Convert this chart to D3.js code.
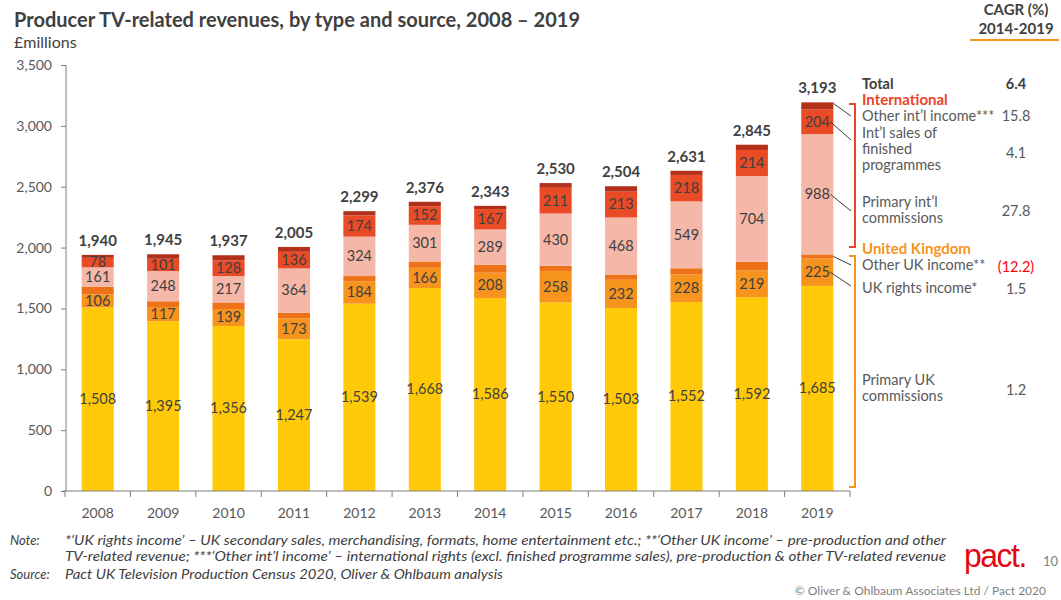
<!DOCTYPE html>
<html>
<head>
<meta charset="utf-8">
<script src="https://cdn.jsdelivr.net/npm/d3@7.9.0/dist/d3.min.js"></script>
<style>
  body { margin: 0; background: #fff; }
  svg { display: block; font-family: Lato, "Open Sans", sans-serif; }
  .axis text { fill: #595959; font-size: 14px; font-family: Lato, sans-serif; }
  .axis path, .axis line { stroke: #7f7f7f; }
</style>
</head>
<body>
<svg id="chart" width="1061" height="600"></svg>
<script>
const years = [2008, 2009, 2010, 2011, 2012, 2013, 2014, 2015, 2016, 2017, 2018, 2019];
const primaryUK = [1508, 1395, 1356, 1247, 1539, 1668, 1586, 1550, 1503, 1552, 1592, 1685];
const ukRights = [106, 117, 139, 173, 184, 166, 208, 258, 232, 228, 219, 225];
const otherUK = [63, 47, 54, 45, 43, 52, 66, 42, 44, 50, 73, 34];
const primaryIntl = [161, 248, 217, 364, 324, 301, 289, 430, 468, 549, 704, 988];
const intlSales = [78, 101, 128, 136, 174, 152, 167, 211, 213, 218, 214, 204];
const otherIntl = [24, 37, 43, 40, 35, 37, 27, 39, 44, 34, 43, 57];
const totals = [1940, 1945, 1937, 2005, 2299, 2376, 2343, 2530, 2504, 2631, 2845, 3193];
const yTicks = [0, 500, 1000, 1500, 2000, 2500, 3000, 3500];

// legend / CAGR column
const cagrLabels = ['Other int\u2019l income***', 'Int\u2019l sales of|finished|programmes', 'Primary int\u2019l|commissions',
  'Other UK income**', 'UK rights income*', 'Primary UK|commissions'];
const cagrValues = ['15.8', '4.1', '27.8', '(12.2)', '1.5', '1.2'];
const totalCagr = '6.4';

const keys = ['primaryUK', 'ukRights', 'otherUK', 'primaryIntl', 'intlSales', 'otherIntl'];
const colors = {
  primaryUK: '#FFC907', ukRights: '#F7941D', otherUK: '#EE7219',
  primaryIntl: '#F5B7A8', intlSales: '#E84B25', otherIntl: '#B3301B'
};
const labelled = ['primaryUK', 'ukRights', 'primaryIntl', 'intlSales'];

const rows = years.map((yr, i) => ({
  year: yr, primaryUK: primaryUK[i], ukRights: ukRights[i], otherUK: otherUK[i],
  primaryIntl: primaryIntl[i], intlSales: intlSales[i], otherIntl: otherIntl[i], total: totals[i]
}));

const svg = d3.select('#chart');
const fmt = d3.format(',');

const x = d3.scaleBand().domain(years).range([65, 850]).paddingInner(0.51).paddingOuter(0.255);
const y = d3.scaleLinear().domain([0, 3500]).range([491, 65]);

const series = d3.stack().keys(keys)(rows);

// bars
const layers = svg.append('g').selectAll('g')
  .data(series)
  .join('g')
  .attr('fill', (s) => colors[s.key]);

layers.selectAll('rect')
  .data((s) => s)
  .join('rect')
  .attr('x', (d) => x(d.data.year))
  .attr('width', x.bandwidth())
  .attr('y', (d) => y(d[1]))
  .attr('height', (d) => y(d[0]) - y(d[1]));

// segment labels
const segLabels = svg.append('g')
  .attr('font-size', 14.5)
  .attr('fill', '#404040')
  .attr('text-anchor', 'middle');

series.filter((s) => labelled.includes(s.key)).forEach((s) => {
  segLabels.selectAll(null)
    .data(s)
    .join('text')
    .attr('x', (d) => x(d.data.year) + x.bandwidth() / 2)
    .attr('y', (d) => (y(d[0]) + y(d[1])) / 2)
    .attr('dy', '0.34em')
    .text((d) => fmt(d[1] - d[0]));
});

// totals
svg.append('g')
  .selectAll('text')
  .data(rows)
  .join('text')
  .attr('x', (d) => x(d.year) + x.bandwidth() / 2)
  .attr('y', (d) => y(d.total) - 9)
  .attr('text-anchor', 'middle')
  .attr('font-size', 15)
  .attr('font-weight', 'bold')
  .attr('fill', '#404040')
  .text((d) => fmt(d.total));

// y axis
const yAxis = svg.append('g')
  .attr('class', 'axis')
  .attr('transform', 'translate(66,0)')
  .call(d3.axisLeft(y).tickValues(yTicks).tickFormat(fmt).tickSize(5).tickPadding(9));
yAxis.select('.domain').attr('d', `M0,${y(3500)}V${y(0)}`);

// x axis
const xAxis = svg.append('g')
  .attr('class', 'axis')
  .attr('transform', `translate(0,${y(0)})`)
  .call(d3.axisBottom(x).tickSize(0).tickPadding(17));
xAxis.select('.domain').attr('d', 'M63,0H850');
const gap = (x.step() - x.bandwidth()) / 2;
xAxis.selectAll('.bound')
  .data(years.map((yr) => x(yr) - gap).concat([850]))
  .join('line')
  .attr('class', 'bound')
  .attr('x1', (d) => d).attr('x2', (d) => d)
  .attr('y1', 0).attr('y2', 6)
  .attr('stroke', '#7f7f7f');

// title
svg.append('text').attr('x', 14).attr('y', 27)
  .attr('font-size', 20).attr('font-weight', 'bold').attr('fill', '#404040')
  .attr('textLength', 566).attr('lengthAdjust', 'spacingAndGlyphs')
  .text('Producer TV-related revenues, by type and source, 2008 \u2013 2019');
svg.append('text').attr('x', 14).attr('y', 48)
  .attr('font-size', 16).attr('fill', '#404040')
  .text('\u00a3millions');

// CAGR header
const hdr = svg.append('g').attr('font-weight', 'bold').attr('font-size', 15)
  .attr('fill', '#404040').attr('text-anchor', 'middle');
hdr.append('text').attr('x', 1016).attr('y', 15).text('CAGR (%)');
hdr.append('text').attr('x', 1016).attr('y', 34).text('2014-2019');
svg.append('line').attr('x1', 970).attr('x2', 1059).attr('y1', 40).attr('y2', 40)
  .attr('stroke', '#F7941D').attr('stroke-width', 2);

// legend
const lg = svg.append('g').attr('font-size', 14.5).attr('fill', '#595959');
lg.append('text').attr('x', 862).attr('y', 89).attr('font-weight', 'bold').attr('fill', '#404040').text('Total');
lg.append('text').attr('x', 1016).attr('y', 89).attr('font-weight', 'bold').attr('fill', '#404040')
  .attr('text-anchor', 'middle').text(totalCagr);
lg.append('text').attr('x', 862).attr('y', 105).attr('font-weight', 'bold').attr('font-size', 15)
  .attr('fill', '#E8452C').text('International');
lg.append('text').attr('x', 862).attr('y', 254).attr('font-weight', 'bold').attr('font-size', 15)
  .attr('fill', '#F7941D').text('United Kingdom');

const labelY = [121, 138, 207, 270, 293, 385];
const valueY = [121, 158, 216, 272, 294, 395];
cagrLabels.forEach((lbl, i) => {
  const t = lg.append('text').attr('x', 862).attr('y', labelY[i]);
  lbl.split('|').forEach((part, j) => {
    t.append('tspan').attr('x', 862).attr('dy', j === 0 ? 0 : 16).text(part);
  });
  lg.append('text').attr('x', 1016).attr('y', valueY[i]).attr('text-anchor', 'middle')
    .attr('fill', cagrValues[i].startsWith('(') ? '#FF0000' : '#595959')
    .text(cagrValues[i]);
});

// brackets
function bracket(y0, y1, col) {
  svg.append('path')
    .attr('d', `M849,${y0}H855V${y1}H849`)
    .attr('fill', 'none').attr('stroke', col).attr('stroke-width', 2);
}
bracket(104, 247, '#E8452C');
bracket(256, 487, '#F7941D');

// leader lines from the 2019 bar
const last = rows.length - 1;
const bx = x(2019) + x.bandwidth();
const leaderKeys = ['otherIntl', 'intlSales', 'primaryIntl', 'otherUK', 'ukRights'];
const leaderEnds = [116, 140, 211, 265, 286];
leaderKeys.forEach((k, i) => {
  const seg = series.find((s) => s.key === k)[last];
  const isLab = labelled.includes(k);
  const sy = k === 'otherIntl' ? y(seg[1]) + 1 : (y(seg[0]) + y(seg[1])) / 2;
  const sx = isLab ? bx - 3 : bx;
  svg.append('line')
    .attr('x1', sx).attr('y1', sy)
    .attr('x2', 851).attr('y2', leaderEnds[i])
    .attr('stroke', '#404040').attr('stroke-width', 1);
});

// notes
const notes = svg.append('g').attr('font-size', 13).attr('font-style', 'italic').attr('fill', '#404040');
notes.append('text').attr('x', 10).attr('y', 545).text('Note:');
notes.append('text').attr('x', 65).attr('y', 545).attr('textLength', 881).attr('lengthAdjust', 'spacingAndGlyphs')
  .text('*\u2018UK rights income\u2019 \u2013 UK secondary sales, merchandising, formats, home entertainment etc.; **\u2018Other UK income\u2019 \u2013 pre-production and other');
notes.append('text').attr('x', 65).attr('y', 561).attr('textLength', 881).attr('lengthAdjust', 'spacingAndGlyphs')
  .text('TV-related revenue; ***\u2018Other int\u2019l income\u2019 \u2013 international rights (excl. finished programme sales), pre-production & other TV-related revenue');
notes.append('text').attr('x', 10).attr('y', 579).text('Source:');
notes.append('text').attr('x', 65).attr('y', 579).attr('textLength', 438).attr('lengthAdjust', 'spacingAndGlyphs')
  .text('Pact UK Television Production Census 2020, Oliver & Ohlbaum analysis');

// logo + page number
svg.append('text').attr('x', 964).attr('y', 567).attr('font-family', '"Liberation Sans", Arial, sans-serif')
  .attr('font-size', 34).attr('fill', '#E30613').attr('letter-spacing', -1.5)
  .attr('textLength', 62).attr('lengthAdjust', 'spacingAndGlyphs').text('pact.');
svg.append('text').attr('x', 1043).attr('y', 566).attr('font-size', 13).attr('fill', '#7f7f7f').text('10');
svg.append('text').attr('x', 1046).attr('y', 595).attr('text-anchor', 'end')
  .attr('font-size', 12).attr('fill', '#7f7f7f').text('\u00a9 Oliver & Ohlbaum Associates Ltd / Pact 2020');
</script>
</body>
</html>
